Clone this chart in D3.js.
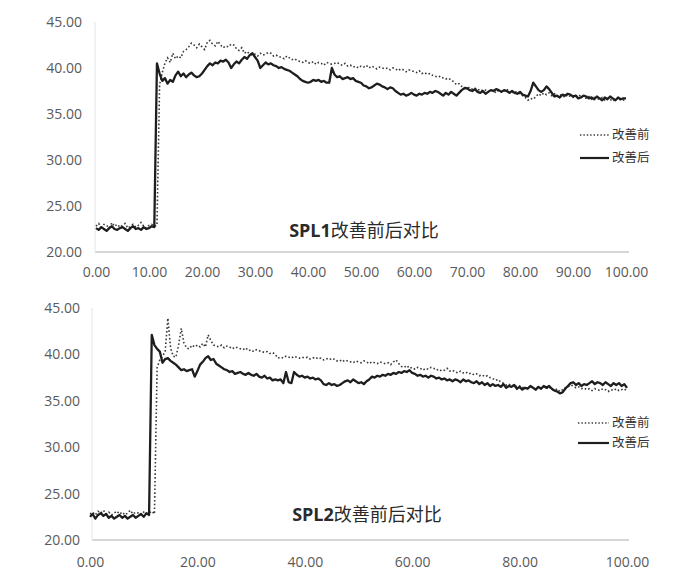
<!DOCTYPE html>
<html><head><meta charset="utf-8">
<script src="https://cdn.jsdelivr.net/npm/d3@7"></script>
<style>
html,body{margin:0;padding:0;background:#fff;}
svg{display:block;}
</style></head>
<body>
<svg id="c" width="699" height="586"></svg>
<script>
// ---- data (sampled every 0.5 on x from 0 to 100) ----
const xStep = 0.5;
const legendLabels = ["改善前", "改善后"];
const titles = ["改善前后对比", "改善前后对比"];
const titlePrefixes = ["SPL1", "SPL2"];
const yTicks = [20, 25, 30, 35, 40, 45];
const xTicksTop = [0, 10, 20, 30, 40, 50, 60, 70, 80, 90, 100];
const xTicksBottom = [0, 20, 40, 60, 80, 100];

const spl1Before = [
22.8,23.1,22.7,23.0,22.9,22.6,23.2,22.8,23.0,22.7,
22.9,23.1,22.6,22.8,23.0,22.7,22.9,23.2,22.8,22.6,
22.9,23.0,22.8,22.9,38.2,39.5,40.5,41.1,40.6,41.6,
41.0,41.3,41.1,41.8,42.0,42.3,42.7,42.5,42.2,42.6,
42.3,42.0,42.8,43.0,42.6,42.4,42.9,42.5,42.2,42.4,
42.3,42.6,42.5,42.1,41.9,42.2,41.6,41.8,41.5,41.4,
41.5,41.3,41.6,41.4,41.5,41.7,41.6,41.3,41.4,41.2,
41.2,41.0,41.3,41.1,40.9,41.0,40.8,40.7,40.6,40.8,
40.6,40.5,40.7,40.4,40.6,40.5,40.3,40.6,40.5,40.4,
40.5,40.6,40.4,40.3,40.5,40.2,40.3,40.1,40.2,40.0,
40.2,40.1,40.3,40.0,40.2,40.1,39.9,40.1,40.0,39.9,
40.0,39.8,40.0,39.9,39.7,39.9,39.8,39.6,39.8,39.7,
39.6,39.5,39.7,39.4,39.5,39.3,39.4,39.2,39.1,39.0,
39.1,38.9,38.8,38.9,38.7,38.5,38.2,38.3,38.0,37.9,
37.8,37.9,37.7,37.8,37.6,37.7,37.5,37.6,37.4,37.6,
37.5,37.3,37.6,37.4,37.5,37.7,37.4,37.2,37.5,37.3,
37.2,37.0,36.8,36.5,36.7,36.6,36.9,37.2,37.0,37.3,
37.1,37.3,37.0,37.2,36.9,37.1,37.0,36.8,37.1,36.9,
36.8,37.0,36.9,37.1,36.8,36.7,36.9,36.6,36.8,36.7,
36.6,36.8,36.5,36.7,36.6,36.4,36.7,36.5,36.6,36.5,
36.6];
const spl1After = [
22.6,22.4,22.7,22.5,22.3,22.6,22.8,22.5,22.4,22.6,
22.7,22.5,22.3,22.6,22.8,22.5,22.6,22.4,22.7,22.5,
22.6,22.8,22.7,40.5,39.4,38.6,38.9,38.3,38.7,38.5,
39.2,39.6,39.1,39.4,39.0,39.3,39.5,39.2,39.0,39.1,
39.4,39.8,40.2,40.5,40.3,40.6,40.5,40.8,40.7,40.9,
40.6,40.0,40.4,40.7,40.5,40.9,41.2,41.0,41.4,41.6,
41.2,40.8,40.0,40.3,40.6,40.4,40.5,40.3,40.2,40.0,
40.1,39.9,39.8,39.7,39.5,39.3,39.1,38.8,38.6,38.5,
38.4,38.5,38.7,38.6,38.7,38.5,38.6,38.4,38.4,40.0,
39.3,39.0,39.1,38.8,38.9,39.0,38.8,38.9,38.6,38.5,
38.4,38.1,38.0,37.8,37.9,38.1,38.3,38.2,38.0,37.9,
37.7,37.9,37.8,37.5,37.3,37.1,37.2,37.0,37.1,37.3,
37.1,37.0,37.2,37.1,37.3,37.2,37.4,37.3,37.5,37.4,
37.2,37.0,37.3,37.1,37.4,37.2,37.0,37.3,37.6,37.8,
37.8,37.6,37.5,37.7,37.4,37.3,37.5,37.2,37.4,37.6,
37.5,37.7,37.6,37.4,37.6,37.5,37.3,37.5,37.3,37.2,
37.4,37.1,37.0,36.9,37.5,38.4,38.0,37.6,37.4,37.6,
38.0,37.7,37.3,36.9,37.0,36.8,37.1,37.0,37.2,37.1,
36.9,37.0,36.7,36.8,37.0,36.9,36.7,36.8,36.6,36.9,
36.7,36.5,36.8,36.6,36.9,36.7,36.5,36.8,36.6,36.7,
36.7];
const spl2Before = [
22.8,23.0,22.7,23.1,22.9,23.2,22.8,23.0,22.7,22.9,
23.1,22.8,23.0,22.7,22.9,23.2,22.8,23.0,22.9,22.7,
23.0,22.8,22.9,23.1,22.8,38.6,39.4,39.8,40.3,43.9,
40.7,39.8,39.7,41.0,42.8,41.2,40.7,40.6,41.0,40.8,
41.0,40.8,41.2,40.8,42.1,41.5,41.0,40.9,40.8,41.0,
40.7,40.9,40.8,40.6,40.8,40.7,40.6,40.5,40.7,40.4,
40.5,40.3,40.5,40.4,40.3,40.2,40.3,40.1,40.2,40.0,
39.6,39.7,39.6,39.8,39.7,39.6,39.8,39.7,39.6,39.7,
39.6,39.7,39.5,39.6,39.7,39.5,39.6,39.4,39.5,39.6,
39.4,39.5,39.3,39.4,39.2,39.4,39.3,39.2,39.1,39.3,
39.2,39.1,39.3,39.2,39.0,39.2,39.1,39.0,39.2,39.1,
39.0,39.1,38.9,39.2,39.4,39.0,38.7,38.6,38.8,38.5,
38.6,38.4,38.6,38.5,38.3,38.5,38.4,38.6,38.5,38.3,
38.4,38.2,38.3,38.5,38.2,38.3,38.1,38.0,38.2,38.0,
38.1,37.9,38.0,37.8,37.9,37.7,37.8,37.6,37.7,37.5,
37.4,37.2,37.3,37.0,36.9,36.7,36.8,36.6,36.7,36.5,
36.6,36.4,36.5,36.3,36.6,36.4,36.2,36.5,36.3,36.5,
36.3,36.5,36.2,36.1,36.3,36.0,36.2,36.4,36.5,36.7,
36.6,36.4,36.5,36.3,36.4,36.2,36.3,36.1,36.3,36.2,
36.1,36.3,36.2,36.0,36.2,36.1,36.3,36.1,36.2,36.3,
36.0];
const spl2After = [
22.5,22.8,22.3,22.7,22.9,22.6,22.8,22.4,22.6,22.3,
22.5,22.7,22.4,22.6,22.3,22.5,22.7,22.4,22.6,22.8,
22.5,22.9,22.7,42.1,41.0,40.6,40.3,39.1,39.5,39.6,
39.3,39.1,38.9,38.6,38.3,38.4,38.2,38.3,38.4,37.6,
38.2,38.9,39.2,39.6,39.8,39.4,39.5,39.0,38.8,38.6,
38.4,38.3,38.1,38.2,37.9,38.0,38.1,37.9,37.8,38.0,
37.8,37.7,37.9,37.6,37.5,37.7,37.4,37.5,37.2,37.3,
37.2,37.3,36.9,38.1,37.0,36.9,38.1,37.8,37.6,37.7,
37.5,37.6,37.4,37.5,37.3,37.4,37.2,36.8,36.7,36.9,
36.7,36.8,36.6,36.7,36.9,37.1,37.2,37.0,37.3,37.1,
36.9,37.0,36.8,37.1,37.3,37.6,37.5,37.7,37.6,37.8,
37.7,37.9,37.8,38.0,37.9,38.1,38.0,38.2,38.1,38.3,
38.0,37.9,37.7,37.8,37.6,37.7,37.5,37.7,37.6,37.4,
37.5,37.3,37.4,37.2,37.3,37.1,37.3,37.2,37.0,37.3,
37.1,37.2,37.0,36.9,37.1,36.8,37.0,36.7,36.9,36.6,
36.8,36.6,36.7,36.5,36.8,36.4,36.6,36.5,36.7,36.3,
36.5,36.2,36.4,36.3,36.6,36.4,36.2,36.5,36.3,36.6,
36.4,36.6,36.3,36.1,36.0,35.8,35.9,36.3,36.6,36.9,
37.0,36.7,36.9,36.6,36.8,36.7,36.9,37.1,36.8,37.0,
36.9,36.7,37.0,36.8,36.6,36.9,36.7,36.9,36.6,36.8,
36.4];

// ---- drawing ----
const svg = d3.select("#c");
const fmt = d3.format(".2f");
const labelFont = "'Open Sans', 'Liberation Sans', sans-serif";
const cjkFont = "'Noto Sans CJK SC', 'Noto Sans', sans-serif";

const panels = [
  {before: spl1Before, after: spl1After, xr: [96, 626], yr: [252, 22], xTicks: xTicksTop,
   axisX0: 95, axisX1: 629, yPad: 14, xPad: 15,
   title: {x: 364, y: 237, prefix: titlePrefixes[0], text: titles[0]},
   legend: {x0: 580, x1: 609, y: [135, 158]}},
  {before: spl2Before, after: spl2After, xr: [90, 627], yr: [540, 308], xTicks: xTicksBottom,
   axisX0: 92, axisX1: 629, yPad: 10, xPad: 17,
   title: {x: 367, y: 521, prefix: titlePrefixes[1], text: titles[1]},
   legend: {x0: 578, x1: 609, y: [423, 443]}}
];

panels.forEach(p => {
  const x = d3.scaleLinear().domain([0, 100]).range(p.xr);
  const y = d3.scaleLinear().domain([20, 45]).range(p.yr);
  const g = svg.append("g");

  // faint axis lines
  g.append("line").attr("x1", p.axisX0).attr("x2", p.axisX1)
    .attr("y1", y(20)).attr("y2", y(20))
    .attr("stroke", "#d6d6d6").attr("stroke-width", 2);
  g.append("line").attr("x1", p.axisX0).attr("x2", p.axisX0)
    .attr("y1", y(45)).attr("y2", y(20))
    .attr("stroke", "#ececec").attr("stroke-width", 1.5);

  // y axis
  const ya = g.append("g").attr("transform", `translate(${p.xr[0]},0)`)
    .call(d3.axisLeft(y).tickValues(yTicks).tickFormat(fmt).tickSize(0).tickPadding(p.yPad));
  ya.select(".domain").remove();
  ya.selectAll("text").attr("fill", "#5a5a5a").style("font-family", labelFont).style("font-size", "14px");

  // x axis
  const xa = g.append("g").attr("transform", `translate(0,${y(20)})`)
    .call(d3.axisBottom(x).tickValues(p.xTicks).tickFormat(fmt).tickSize(0).tickPadding(p.xPad));
  xa.select(".domain").remove();
  xa.selectAll("text").attr("fill", "#5a5a5a").style("font-family", labelFont).style("font-size", "14px");

  const line = d3.line().x((d, i) => x(i * xStep)).y(d => y(d));

  g.append("path").datum(p.before).attr("d", line)
    .attr("fill", "none").attr("stroke", "#3a3a3a").attr("stroke-width", 1.6)
    .attr("stroke-dasharray", "1.6,2.2");
  g.append("path").datum(p.after).attr("d", line)
    .attr("fill", "none").attr("stroke", "#1e1e1e").attr("stroke-width", 2.3)
    .attr("stroke-linejoin", "round");

  // title
  const t = g.append("text").attr("x", p.title.x).attr("y", p.title.y)
    .attr("text-anchor", "middle").attr("fill", "#2a2a2a")
    .style("font-family", cjkFont).style("font-size", "18px");
  t.append("tspan").attr("font-weight", "bold").style("font-family", labelFont).text(p.title.prefix);
  t.append("tspan").attr("font-weight", "normal").text(p.title.text);

  // legend
  const L = p.legend;
  g.append("line").attr("x1", L.x0).attr("x2", L.x1).attr("y1", L.y[0]).attr("y2", L.y[0])
    .attr("stroke", "#3a3a3a").attr("stroke-width", 1.4).attr("stroke-dasharray", "1.4,2");
  g.append("line").attr("x1", L.x0).attr("x2", L.x1).attr("y1", L.y[1]).attr("y2", L.y[1])
    .attr("stroke", "#1e1e1e").attr("stroke-width", 2.2);
  legendLabels.forEach((lab, i) => {
    g.append("text").attr("x", L.x1 + 3).attr("y", L.y[i]).attr("dy", "0.35em")
      .attr("fill", "#333").style("font-family", cjkFont).style("font-size", "12.5px")
      .text(lab);
  });
});
</script>
</body></html>
